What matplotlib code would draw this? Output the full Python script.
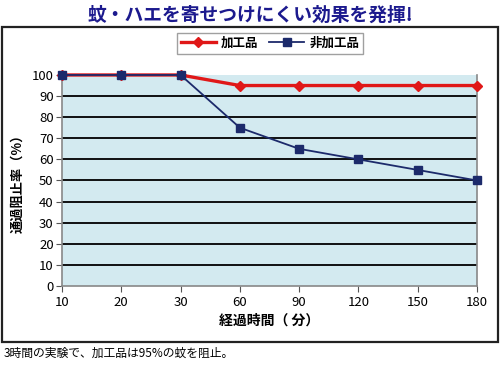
import numpy as np
import matplotlib
matplotlib.use("Agg")
import matplotlib.pyplot as plt
from matplotlib.patches import Rectangle

plt.rcParams['font.family'] = ['Noto Sans CJK JP', 'DejaVu Sans']

times = ['10', '20', '30', '60', '90', '120', '150', '180']
treated = [100, 100, 100, 95, 95, 95, 95, 95]
untreated = [100, 100, 100, 75, 65, 60, 55, 50]
yticks = [0, 10, 20, 30, 40, 50, 60, 70, 80, 90, 100]

fig = plt.figure(figsize=(5, 3.67), dpi=100)
fig.patch.set_facecolor('white')

# outer frame
fig.patches.append(Rectangle((0.003, 0.068), 0.993, 0.858, transform=fig.transFigure,
                             fill=False, edgecolor='#222222', linewidth=1.6))

ax = fig.add_axes([0.124, 0.2207, 0.83, 0.575])
ax.set_facecolor('#d3eaf0')
x = np.arange(len(times))

for v in yticks[1:-1]:
    ax.axhline(v, color='black', linewidth=1.3, zorder=1)

ax.plot(x, treated, color='#e01818', linewidth=2.4, marker='D', markersize=5.5,
        label='加工品', zorder=3, clip_on=False)
ax.plot(x, untreated, color='#1c2a6b', linewidth=1.3, marker='s', markersize=6,
        label='非加工品', zorder=4, clip_on=False)

ax.set_xlim(0, len(times) - 1)
ax.set_ylim(0, 100)
ax.set_xticks(x)
ax.set_xticklabels(times)
ax.set_yticks(yticks)
ax.tick_params(axis='both', labelsize=9.5, length=4, color='#555555', width=0.8)
ax.tick_params(axis='y', pad=2)
for s in ['left', 'bottom', 'right']:
    ax.spines[s].set_color('#888888')
    ax.spines[s].set_linewidth(1.2)
ax.spines['top'].set_visible(False)

ax.set_xlabel('経過時間（ 分）', fontsize=10, fontweight='bold', labelpad=3)
ax.set_ylabel('通過阻止率（%）', fontsize=9.5, fontweight='bold', labelpad=5)

leg = fig.legend(loc='center', bbox_to_anchor=(0.54, 0.882),
                 ncol=2, fontsize=9, frameon=True, fancybox=False, edgecolor='#888888',
                 handlelength=2.8, columnspacing=0.9, borderpad=0.3, handletextpad=0.4)
leg.get_frame().set_linewidth(1.0)
for t in leg.get_texts():
    t.set_fontweight('bold')

fig.text(0.5, 0.958, '蚊・ハエを寄せつけにくい効果を発揮!', ha='center', va='center',
         fontsize=13.5, fontweight='bold', color='#1c1a8e')
fig.text(0.008, 0.038, '3時間の実験で、加工品は95%の蚊を阻止。', ha='left', va='center',
         fontsize=8.5, color='black')

fig.savefig('out.png', dpi=100)
